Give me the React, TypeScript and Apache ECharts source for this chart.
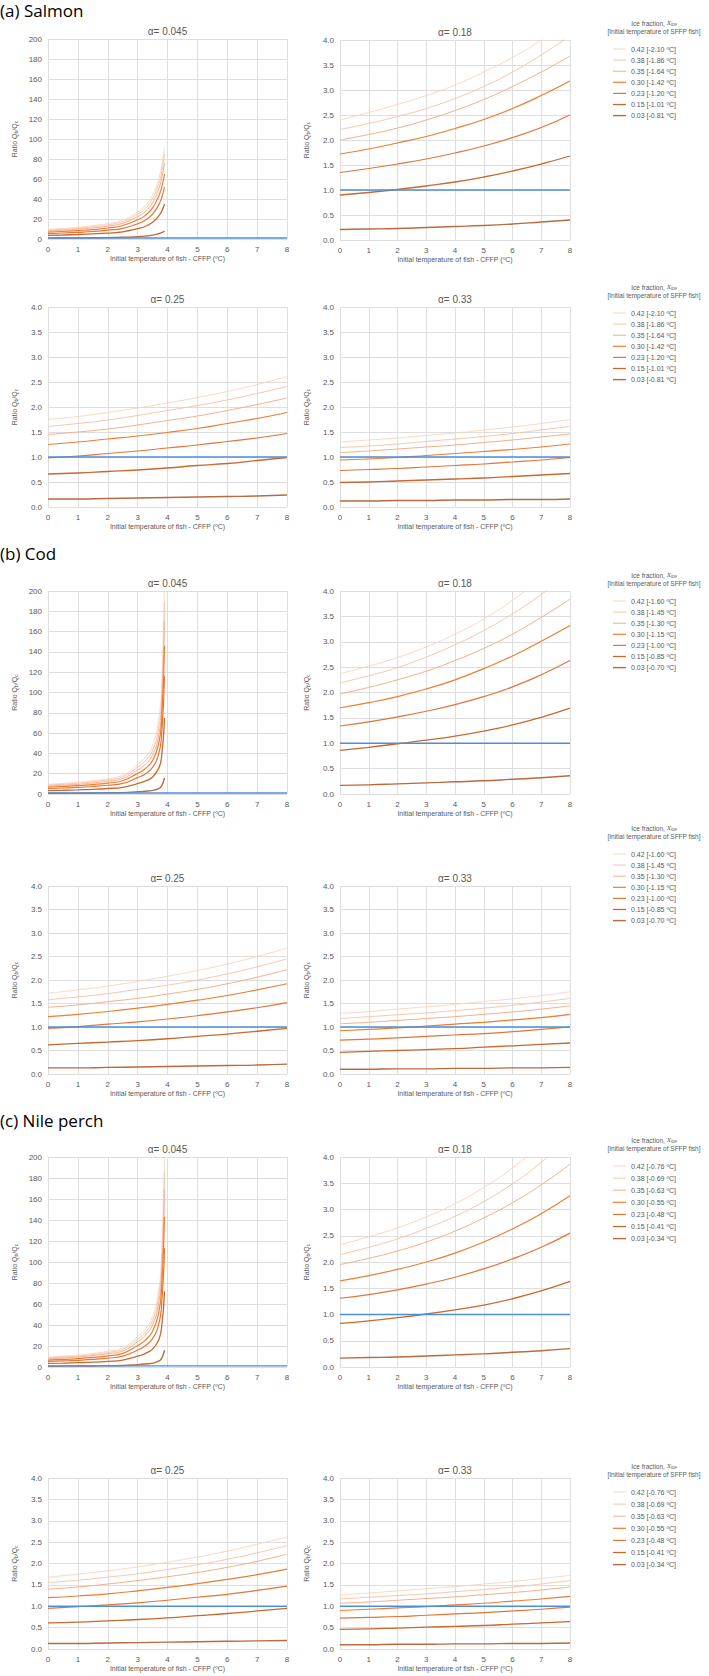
import React, { useEffect, useRef } from "react";
import * as echarts from "echarts";

// ---------------- data ----------------
const X_STEEP = [0, 0.5, 1, 1.5, 2, 2.5, 3, 3.25, 3.5, 3.7, 3.8, 3.9];
const X_FULL = [0, 1, 2, 3, 4, 5, 6, 7, 8];
const REF_X = [0, 8];
const REF_Y = [1, 1];
const ALPHA_LABELS = ["α= 0.045", "α= 0.18", "α= 0.25", "α= 0.33"];
const SPECIES_LABELS = ["(a) Salmon", "(b) Cod", "(c) Nile perch"];
const ICE_FRACTIONS = ["0.42", "0.38", "0.35", "0.30", "0.23", "0.15", "0.03"];
const SALMON_TEMPS = ["-2.10", "-1.86", "-1.64", "-1.42", "-1.20", "-1.01", "-0.81"];
const COD_TEMPS = ["-1.60", "-1.45", "-1.30", "-1.15", "-1.00", "-0.85", "-0.70"];
const NILE_TEMPS = ["-0.76", "-0.69", "-0.63", "-0.55", "-0.48", "-0.41", "-0.34"];
const Y_STEEP_MAX = 200;
const Y_STEEP_INTERVAL = 20;
const Y_MAX = 4;
const Y_INTERVAL = 0.5;
const X_MAX = 8;
const X_INTERVAL = 1;

// Salmon
const salmonA045 = [
  [9.6, 10.6, 11.8, 13.3, 15.5, 19.0, 27.0, 33.0, 44.0, 60.0, 72.0, 92.0],
  [8.8, 9.7, 10.8, 12.2, 14.2, 17.4, 24.8, 30.3, 40.5, 55.0, 66.0, 85.0],
  [8.0, 8.8, 9.8, 11.0, 12.9, 15.8, 22.4, 27.4, 36.5, 50.0, 60.0, 76.0],
  [6.8, 7.5, 8.4, 9.4, 11.0, 13.5, 19.2, 23.4, 31.2, 42.6, 51.0, 65.0],
  [5.4, 6.0, 6.7, 7.5, 8.8, 10.7, 15.3, 18.6, 24.9, 33.9, 40.7, 52.0],
  [3.6, 4.0, 4.5, 5.1, 5.9, 7.2, 10.3, 12.5, 16.7, 22.8, 27.4, 35.0],
  [0.9, 1.0, 1.1, 1.2, 1.4, 1.7, 2.4, 2.9, 3.9, 5.3, 6.3, 8.0],
];
const salmonA018 = [
  [2.40, 2.55, 2.71, 2.89, 3.10, 3.36, 3.65, 4.00, 4.40],
  [2.21, 2.33, 2.47, 2.63, 2.83, 3.07, 3.36, 3.70, 4.08],
  [2.00, 2.11, 2.24, 2.40, 2.59, 2.81, 3.07, 3.36, 3.68],
  [1.72, 1.82, 1.94, 2.07, 2.23, 2.41, 2.63, 2.89, 3.18],
  [1.35, 1.43, 1.52, 1.62, 1.74, 1.88, 2.05, 2.25, 2.50],
  [0.90, 0.95, 1.01, 1.08, 1.16, 1.26, 1.38, 1.52, 1.68],
  [0.21, 0.22, 0.23, 0.25, 0.27, 0.29, 0.32, 0.36, 0.40],
];
const salmonA025 = [
  [1.75, 1.81, 1.89, 1.98, 2.08, 2.19, 2.31, 2.45, 2.61],
  [1.61, 1.67, 1.74, 1.83, 1.93, 2.03, 2.14, 2.27, 2.41],
  [1.45, 1.50, 1.56, 1.64, 1.73, 1.82, 1.93, 2.05, 2.18],
  [1.25, 1.30, 1.36, 1.42, 1.49, 1.57, 1.67, 1.77, 1.89],
  [0.98, 1.02, 1.07, 1.12, 1.18, 1.24, 1.31, 1.38, 1.47],
  [0.66, 0.68, 0.71, 0.74, 0.78, 0.83, 0.87, 0.93, 0.99],
  [0.16, 0.16, 0.17, 0.18, 0.19, 0.20, 0.21, 0.22, 0.24],
];
const salmonA033 = [
  [1.30, 1.34, 1.38, 1.43, 1.48, 1.54, 1.60, 1.67, 1.75],
  [1.19, 1.22, 1.26, 1.31, 1.36, 1.41, 1.47, 1.54, 1.61],
  [1.09, 1.12, 1.16, 1.20, 1.24, 1.29, 1.34, 1.40, 1.46],
  [0.94, 0.96, 0.99, 1.03, 1.07, 1.11, 1.15, 1.20, 1.26],
  [0.73, 0.75, 0.77, 0.80, 0.83, 0.86, 0.90, 0.94, 0.99],
  [0.49, 0.50, 0.52, 0.54, 0.56, 0.58, 0.61, 0.64, 0.67],
  [0.12, 0.12, 0.13, 0.13, 0.14, 0.14, 0.15, 0.15, 0.16],
];

// Cod
const codA045 = [
  [9.5, 10.4, 11.5, 13.0, 15.2, 18.5, 29.0, 36.0, 48.0, 72.0, 105.0, 210.0],
  [8.8, 9.6, 10.6, 12.0, 14.0, 17.0, 26.5, 32.5, 43.0, 64.0, 93.0, 190.0],
  [7.9, 8.6, 9.5, 10.8, 12.6, 15.3, 23.7, 29.0, 38.5, 57.0, 83.0, 170.0],
  [6.8, 7.4, 8.2, 9.3, 10.8, 13.1, 20.3, 24.9, 33.0, 49.0, 71.0, 146.0],
  [5.4, 5.9, 6.5, 7.4, 8.6, 10.4, 16.1, 19.8, 26.3, 39.0, 57.0, 116.0],
  [3.4, 3.7, 4.1, 4.6, 5.4, 6.6, 10.3, 12.7, 16.8, 25.0, 36.0, 75.0],
  [0.7, 0.8, 0.9, 1.0, 1.2, 1.4, 2.2, 2.7, 3.6, 5.3, 7.7, 16.0],
];
const codA018 = [
  [2.37, 2.52, 2.69, 2.90, 3.15, 3.45, 3.82, 4.28, 4.85],
  [2.19, 2.33, 2.49, 2.70, 2.94, 3.22, 3.55, 3.93, 4.35],
  [1.97, 2.10, 2.25, 2.42, 2.63, 2.87, 3.15, 3.48, 3.84],
  [1.70, 1.80, 1.92, 2.07, 2.25, 2.47, 2.72, 3.01, 3.32],
  [1.34, 1.42, 1.52, 1.63, 1.76, 1.92, 2.11, 2.35, 2.63],
  [0.86, 0.92, 0.99, 1.06, 1.14, 1.24, 1.36, 1.51, 1.69],
  [0.17, 0.18, 0.20, 0.22, 0.24, 0.26, 0.29, 0.32, 0.36],
];
const codA025 = [
  [1.72, 1.79, 1.87, 1.97, 2.08, 2.20, 2.34, 2.50, 2.68],
  [1.58, 1.64, 1.71, 1.80, 1.89, 2.00, 2.13, 2.28, 2.45],
  [1.42, 1.47, 1.54, 1.61, 1.70, 1.80, 1.92, 2.06, 2.22],
  [1.22, 1.27, 1.33, 1.40, 1.48, 1.57, 1.67, 1.79, 1.92],
  [0.97, 1.01, 1.06, 1.11, 1.17, 1.24, 1.32, 1.41, 1.52],
  [0.62, 0.65, 0.68, 0.71, 0.75, 0.80, 0.85, 0.91, 0.97],
  [0.13, 0.13, 0.14, 0.15, 0.16, 0.17, 0.18, 0.19, 0.21],
];
const codA033 = [
  [1.29, 1.33, 1.38, 1.43, 1.48, 1.54, 1.60, 1.67, 1.75],
  [1.18, 1.22, 1.26, 1.30, 1.35, 1.40, 1.46, 1.53, 1.61],
  [1.07, 1.10, 1.14, 1.18, 1.22, 1.27, 1.32, 1.38, 1.45],
  [0.92, 0.95, 0.98, 1.02, 1.06, 1.10, 1.15, 1.20, 1.27],
  [0.72, 0.74, 0.77, 0.80, 0.83, 0.86, 0.90, 0.95, 1.00],
  [0.46, 0.48, 0.50, 0.52, 0.54, 0.57, 0.60, 0.63, 0.66],
  [0.10, 0.10, 0.11, 0.11, 0.12, 0.12, 0.13, 0.13, 0.14],
];

// Nile perch
const nileA045 = [
  [9.3, 10.2, 11.3, 12.8, 15.0, 18.3, 29.0, 36.0, 48.0, 72.0, 105.0, 205.0],
  [8.6, 9.4, 10.4, 11.8, 13.8, 16.8, 26.5, 33.0, 44.0, 66.0, 96.0, 186.0],
  [7.9, 8.6, 9.5, 10.8, 12.6, 15.3, 24.0, 30.0, 40.0, 60.0, 87.0, 169.0],
  [6.6, 7.2, 8.0, 9.1, 10.6, 13.0, 20.4, 25.4, 34.0, 51.0, 74.0, 143.0],
  [5.3, 5.8, 6.4, 7.2, 8.4, 10.3, 16.2, 20.0, 27.0, 40.0, 58.0, 113.0],
  [3.4, 3.7, 4.1, 4.6, 5.4, 6.6, 10.3, 12.8, 17.0, 25.5, 37.0, 72.0],
  [0.7, 0.8, 0.9, 1.0, 1.2, 1.4, 2.2, 2.8, 3.7, 5.5, 8.0, 16.0],
];
const nileA018 = [
  [2.33, 2.48, 2.65, 2.86, 3.11, 3.42, 3.79, 4.25, 4.80],
  [2.14, 2.28, 2.44, 2.64, 2.87, 3.15, 3.49, 3.90, 4.38],
  [1.95, 2.07, 2.21, 2.38, 2.59, 2.84, 3.13, 3.47, 3.86],
  [1.64, 1.74, 1.86, 2.00, 2.17, 2.38, 2.63, 2.92, 3.26],
  [1.31, 1.38, 1.47, 1.58, 1.71, 1.87, 2.06, 2.28, 2.55],
  [0.83, 0.88, 0.94, 1.01, 1.09, 1.18, 1.30, 1.45, 1.63],
  [0.17, 0.18, 0.19, 0.21, 0.23, 0.25, 0.28, 0.31, 0.35],
];
const nileA025 = [
  [1.68, 1.75, 1.83, 1.92, 2.03, 2.15, 2.29, 2.45, 2.62],
  [1.55, 1.61, 1.68, 1.76, 1.86, 1.97, 2.10, 2.25, 2.42],
  [1.40, 1.45, 1.52, 1.60, 1.69, 1.79, 1.91, 2.05, 2.22],
  [1.20, 1.24, 1.29, 1.36, 1.44, 1.53, 1.63, 1.74, 1.87],
  [0.95, 0.99, 1.03, 1.08, 1.14, 1.21, 1.28, 1.37, 1.47],
  [0.61, 0.63, 0.66, 0.69, 0.73, 0.78, 0.83, 0.89, 0.95],
  [0.13, 0.13, 0.14, 0.15, 0.16, 0.17, 0.18, 0.19, 0.20],
];
const nileA033 = [
  [1.27, 1.31, 1.36, 1.41, 1.46, 1.52, 1.58, 1.65, 1.72],
  [1.17, 1.21, 1.25, 1.29, 1.34, 1.39, 1.45, 1.52, 1.60],
  [1.07, 1.10, 1.14, 1.18, 1.22, 1.27, 1.32, 1.38, 1.45],
  [0.90, 0.93, 0.96, 0.99, 1.03, 1.07, 1.12, 1.17, 1.23],
  [0.72, 0.74, 0.76, 0.79, 0.82, 0.85, 0.89, 0.93, 0.98],
  [0.46, 0.47, 0.49, 0.51, 0.53, 0.55, 0.58, 0.61, 0.64],
  [0.10, 0.10, 0.11, 0.11, 0.12, 0.12, 0.13, 0.13, 0.14],
];

// ---------------- styling / layout ----------------
const CURVE_COLORS = ["#f9d3bc", "#f7c0a2", "#f4ad89", "#ed7d31", "#e27538", "#c9682f", "#b96a40"];
const CURVE_WIDTHS = [0.9, 0.9, 1, 1.2, 1.2, 1.3, 1.4];
const REF_COLOR = "#4a8fd8";
const GRID_COLOR = "#dedede";
const LABEL_COLOR = "#595959";
const FONT = '"Liberation Sans", Arial, sans-serif';

const SECTION_LABEL_Y = [10, 553, 1120];
const ROW_TOP = [
  [39, 307],
  [591, 886],
  [1157, 1478],
];
const ROW_H = [
  [200, 200],
  [203, 188],
  [210, 171],
];
const COL_LEFT = [48, 340];
const COL_W = [239, 230];
const LEGEND_LEFT = 613;
const LEGEND_TOP = [
  [45, 309],
  [597, 850],
  [1162, 1488],
];
const LEGEND_GAP = [3.1, 3.1, 4.1];

export default function App() {
  const ref = useRef<HTMLDivElement>(null);

  useEffect(() => {
    document.body.style.margin = "0";
    if (!ref.current) return;
    const chart = echarts.init(ref.current, undefined, { renderer: "svg" });

    const speciesData = [
      [salmonA045, salmonA018, salmonA025, salmonA033],
      [codA045, codA018, codA025, codA033],
      [nileA045, nileA018, nileA025, nileA033],
    ];
    const speciesTemps = [SALMON_TEMPS, COD_TEMPS, NILE_TEMPS];

    const grids: any[] = [];
    const xAxes: any[] = [];
    const yAxes: any[] = [];
    const series: any[] = [];
    const legends: any[] = [];
    const graphics: any[] = [];

    for (let s = 0; s < 3; s++) {
      const names = ICE_FRACTIONS.map((f, i) => `${f} [${speciesTemps[s][i]} ºC]`);
      graphics.push({
        type: "text",
        x: 0,
        y: SECTION_LABEL_Y[s],
        style: {
          text: SPECIES_LABELS[s],
          fill: "#000",
          fontSize: 17,
          fontFamily: '"Open Sans", sans-serif',
          align: "left",
          verticalAlign: "middle",
        },
      });
      for (let r = 0; r < 2; r++) {
        const lt = LEGEND_TOP[s][r];
        legends.push({
          orient: "vertical",
          left: LEGEND_LEFT,
          top: lt,
          padding: 0,
          itemWidth: 13,
          itemHeight: 8,
          itemGap: LEGEND_GAP[s],
          selectedMode: false,
          data: names.map((n, i) => ({
            name: n,
            icon: `path://M0,${4 - CURVE_WIDTHS[i] / 2}H13V${4 + CURVE_WIDTHS[i] / 2}H0Z`,
          })),
          textStyle: { fontSize: 7, lineHeight: 8, color: LABEL_COLOR, fontFamily: FONT },
        });
        graphics.push({
          type: "text",
          x: 654,
          y: lt - 22,
          style: {
            text: "Ice fraction, {i|X}{s|ice}",
            fill: LABEL_COLOR,
            fontSize: 6.5,
            fontFamily: FONT,
            align: "center",
            verticalAlign: "middle",
            rich: {
              i: { fontSize: 7, fontStyle: "italic", fontFamily: "Liberation Serif, serif", fill: LABEL_COLOR },
              s: { fontSize: 4.5, fontStyle: "italic", fill: LABEL_COLOR, verticalAlign: "bottom", padding: [3, 0, 0, 0] },
            },
          },
        });
        graphics.push({
          type: "text",
          x: 654,
          y: lt - 14,
          style: {
            text: "[Initial temperature of SFFP fish]",
            fill: LABEL_COLOR,
            fontSize: 6.5,
            fontFamily: FONT,
            align: "center",
            verticalAlign: "middle",
          },
        });

        for (let c = 0; c < 2; c++) {
          const a = r * 2 + c;
          const p = grids.length;
          const steep = a === 0;
          const top = ROW_TOP[s][r] + (c === 1 && s === 0 && r === 0 ? 1 : 0);
          const h = ROW_H[s][r];
          const left = COL_LEFT[c];
          const w = COL_W[c];
          grids.push({ left, top, width: w, height: h, containLabel: false });

          graphics.push({
            type: "text",
            x: left + w / 2,
            y: top - 8,
            style: {
              text: ALPHA_LABELS[a],
              fill: LABEL_COLOR,
              fontSize: 10,
              fontFamily: FONT,
              align: "center",
              verticalAlign: "middle",
            },
          });

          xAxes.push({
            type: "value",
            gridIndex: p,
            min: 0,
            max: X_MAX,
            interval: X_INTERVAL,
            axisLine: { show: false },
            axisTick: { show: false },
            splitLine: { show: true, lineStyle: { color: GRID_COLOR, width: 1 } },
            axisLabel: { fontSize: 8, color: LABEL_COLOR, fontFamily: FONT, margin: 6 },
            name: "Initial temperature of fish - CFFP (ºC)",
            nameLocation: "middle",
            nameGap: 16,
            nameTextStyle: { fontSize: 7, color: LABEL_COLOR, fontFamily: FONT },
          });
          yAxes.push({
            type: "value",
            gridIndex: p,
            min: 0,
            max: steep ? Y_STEEP_MAX : Y_MAX,
            interval: steep ? Y_STEEP_INTERVAL : Y_INTERVAL,
            axisLine: { show: false },
            axisTick: { show: false },
            splitLine: { show: true, lineStyle: { color: GRID_COLOR, width: 1 } },
            axisLabel: {
              fontSize: 8,
              color: LABEL_COLOR,
              fontFamily: FONT,
              margin: 6,
              formatter: (v: number) => (steep ? String(v) : v.toFixed(1)),
            },
            name: "Ratio Q{s|b}/Q{s|c}",
            nameLocation: "middle",
            nameGap: 30,
            nameRotate: 90,
            nameTextStyle: {
              fontSize: 7,
              color: LABEL_COLOR,
              fontFamily: FONT,
              rich: { s: { fontSize: 5, color: LABEL_COLOR, fontFamily: FONT, verticalAlign: "bottom" } },
            },
          });

          const xs = steep ? X_STEEP : X_FULL;
          const panelData = speciesData[s][a];
          panelData.forEach((ys: number[], i: number) => {
            series.push({
              type: "line",
              name: names[i],
              xAxisIndex: p,
              yAxisIndex: p,
              data: xs.map((x, k) => [x, ys[k]]),
              symbol: "none",
              smooth: 0.5,
              clip: true,
              lineStyle: { color: CURVE_COLORS[i], width: CURVE_WIDTHS[i] },
              itemStyle: { color: CURVE_COLORS[i] },
              emphasis: { disabled: true },
              z: 2,
            });
          });
          series.push({
            type: "line",
            name: "Reference",
            xAxisIndex: p,
            yAxisIndex: p,
            data: REF_X.map((x, k) => [x, REF_Y[k]]),
            symbol: "none",
            lineStyle: { color: REF_COLOR, width: 1.3 },
            itemStyle: { color: REF_COLOR },
            emphasis: { disabled: true },
            z: 3,
          });
        }
      }
    }

    chart.setOption({
      animation: false,
      backgroundColor: "#ffffff",
      textStyle: { fontFamily: FONT },
      grid: grids,
      xAxis: xAxes,
      yAxis: yAxes,
      legend: legends,
      series,
      graphic: graphics,
    });

    return () => {
      chart.dispose();
    };
  }, []);

  return <div ref={ref} style={{ width: 709, height: 1676 }} />;
}
